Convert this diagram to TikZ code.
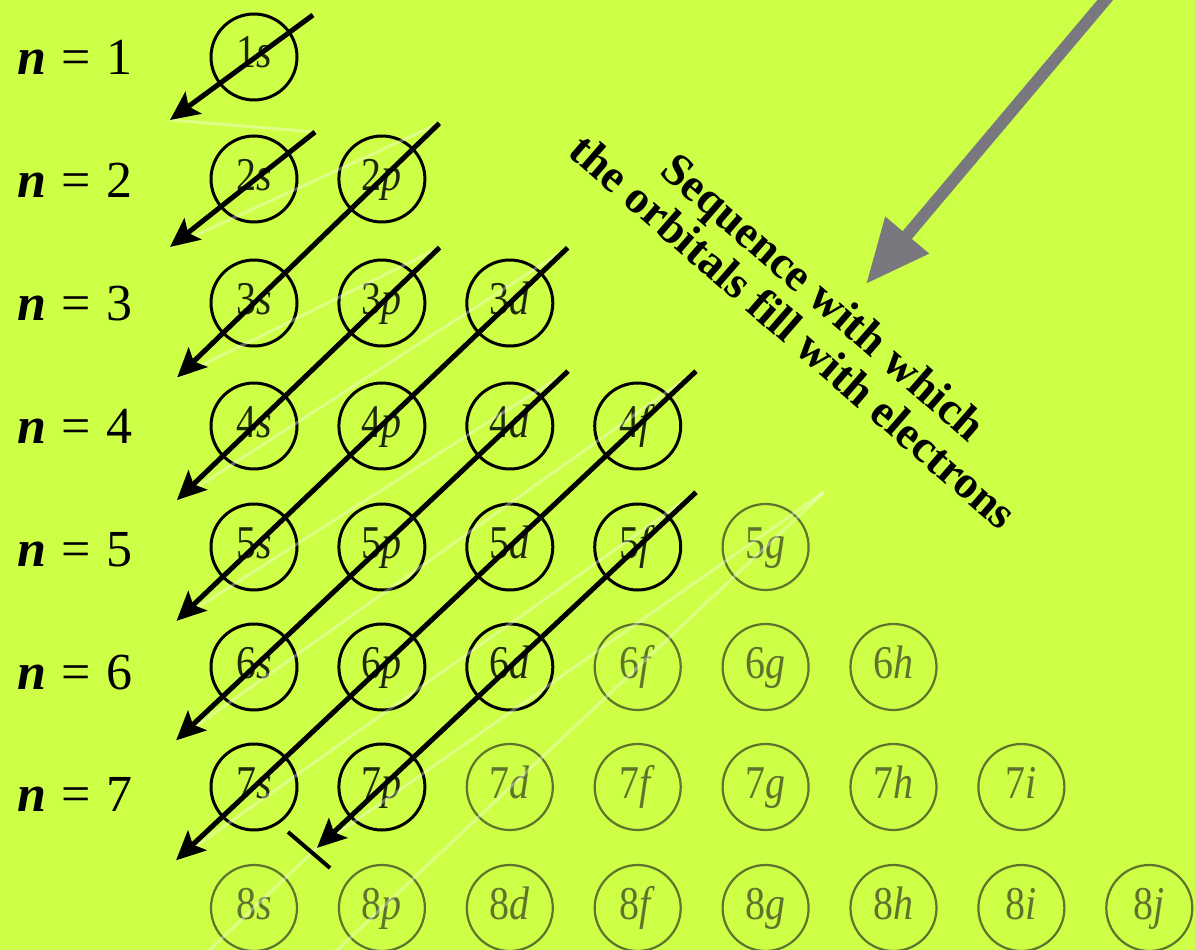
\documentclass[tikz,border=0pt]{standalone}
\usepackage{fontspec}
\setmainfont{Liberation Serif}
\newfontfamily\orbfont[FakeStretch=0.85]{Liberation Serif}
\usetikzlibrary{arrows.meta,calc}
\definecolor{bg}{RGB}{205,255,70}
\definecolor{fadec}{RGB}{95,115,45}
\definecolor{inkc}{RGB}{30,40,10}
\definecolor{grayarrow}{RGB}{120,120,126}
\begin{document}
\begin{tikzpicture}[x=1pt,y=-1pt,
  orb/.style={circle,draw=black,line width=3pt,minimum size=86pt,inner sep=0pt,
    text=inkc,text height=30pt,text depth=8pt,
    font=\orbfont\fontsize{47}{47}\selectfont},
  fadeorb/.style={orb,draw=fadec,line width=2.2pt,text=fadec},
  nlab/.style={anchor=base west,inner sep=0pt,font=\fontsize{52}{52}\selectfont},
  seqarrow/.style={draw=black,line width=5pt,
    -{Stealth[length=29pt,width=27pt,inset=6pt]}},
  faint/.style={draw=white,opacity=0.35,line width=3pt},
  bigarrow/.style={draw=grayarrow,line width=12pt,
    -{Triangle[length=64pt,width=54pt]}},
  seqtext/.style={align=center,rotate=-41,inner sep=0pt,
    font=\fontsize{46}{46}\selectfont\bfseries}
]
\useasboundingbox (0,0) rectangle (1195,950);
\fill[bg] (0,0) rectangle (1195,950);
\clip (0,0) rectangle (1195,950);

% level labels
\foreach \n in {1,...,7}
  \node[nlab] (lab\n) at (17,{75+122.8*(\n-1)})
    {\textbf{\textit{n}}\hspace{0.3em}=\hspace{0.3em}\n};

% filled orbitals
\foreach \n/\y/\lmax in {1/57/0,2/179/1,3/303/2,4/426/3,5/547/3,6/667/2,7/787/1}{
  \foreach \l/\c in {0/s,1/p,2/d,3/f}{
    \ifnum\l>\lmax\relax\else
      \node[orb] (o\n\c) at ({254+127.9*\l},\y) {\n\textit{\c}};
    \fi
  }
}
% unfilled orbitals
\foreach \n/\y/\lmin/\lmax in {5/547/4/4,6/667/3/5,7/787/2/6,8/908/0/7}{
  \foreach \l/\c in {0/s,1/p,2/d,3/f,4/g,5/h,6/i,7/j}{
    \ifnum\l<\lmin\relax\else\ifnum\l>\lmax\relax\else
      \node[fadeorb] (o\n\c) at ({254+127.9*\l},\y) {\n\textit{\c}};
    \fi\fi
  }
}

% arrow ends
\coordinate (t1) at ($(o1s)+(59,-42)$);
\coordinate (e1) at ($(o1s)+(-84,63)$);
\coordinate (t2) at ($(o2s)+(61,-47)$);
\coordinate (e2) at ($(o2s)+(-84,68)$);
\coordinate (t3) at ($(o2p)!-80pt!(o3s)$);
\coordinate (e3) at ($(o3s)!-107pt!(o2p)$);
\coordinate (t4) at ($(o3p)!-80pt!(o4s)$);
\coordinate (e4) at ($(o4s)!-107pt!(o3p)$);
\coordinate (t5) at ($(o3d)!-80pt!(o5s)$);
\coordinate (e5) at ($(o5s)!-107pt!(o3d)$);
\coordinate (t6) at ($(o4d)!-80pt!(o6s)$);
\coordinate (e6) at ($(o6s)!-107pt!(o4d)$);
\coordinate (t7) at ($(o4f)!-80pt!(o7s)$);
\coordinate (e7) at ($(o7s)!-107pt!(o4f)$);
\coordinate (t8) at ($(o5f)!-80pt!(o7p)$);
\coordinate (e8) at ($(o7p)!-89pt!(o5f)$);
\coordinate (x8) at ($(o8s)!-107pt!(o7p)$);
\coordinate (t9) at ($(o5g)!-80pt!(o8p)$);
\coordinate (e9) at ($(o8p)!-107pt!(o5g)$);

% faint guide lines
\foreach \a/\b in {e1/t2,e2/t3,e3/t4,e4/t5,e5/t6,e6/t7,e7/t8,e8/t9,e8/x8,t9/e9}
  \draw[faint] (\a) -- (\b);

% filling sequence arrows
\foreach \k in {1,...,8}
  \draw[seqarrow] (t\k) -- (e\k);

% stop mark
\coordinate (k1) at (288,832);
\coordinate (k2) at (330,868);
\draw[black,line width=4pt] (k1) -- (k2);

% caption and its arrow
\node[seqtext] (cap) at (809,314)
  {Sequence with which\\the orbitals fill with electrons};
\coordinate (g1) at (1112,-8);
\coordinate (g2) at (866,284);
\draw[bigarrow] (g1) -- (g2);
\end{tikzpicture}
\end{document}
